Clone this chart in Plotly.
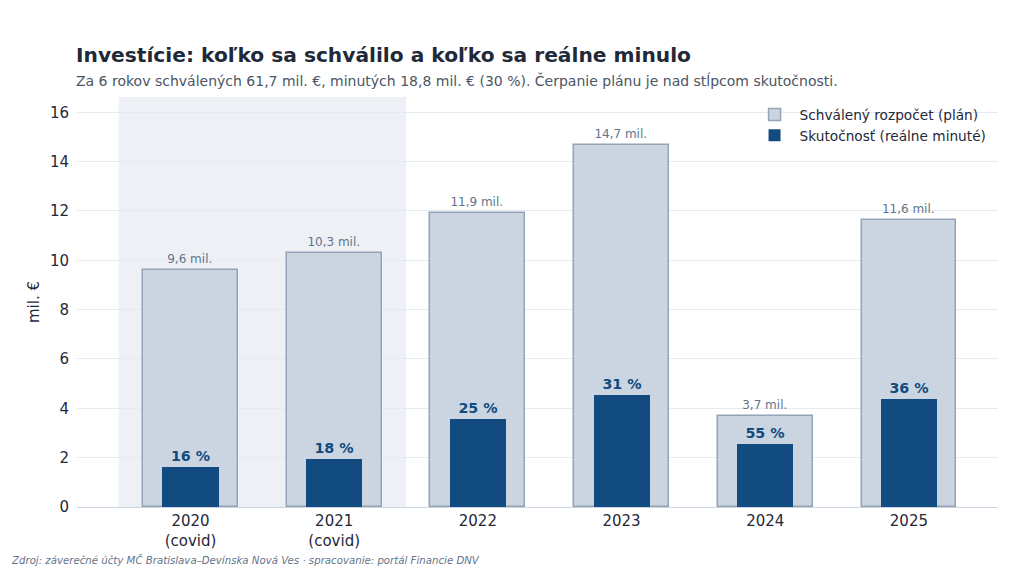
import plotly.graph_objects as go

years = ["2020<br>(covid)", "2021<br>(covid)", "2022", "2023", "2024", "2025"]
plan = [9.6, 10.3, 11.9, 14.66, 3.68, 11.62]
actual = [1.62, 1.96, 3.58, 4.53, 2.57, 4.39]
plan_labels = ["9,6 mil.", "10,3 mil.", "11,9 mil.", "14,7 mil.", "3,7 mil.", "11,6 mil."]
pct_labels = ["16 %", "18 %", "25 %", "31 %", "55 %", "36 %"]
y_ticks = [0, 2, 4, 6, 8, 10, 12, 14, 16]

FONT = "DejaVu Sans"
NAVY = "#114b7f"

fig = go.Figure()
fig.add_trace(go.Bar(
    x=years, y=plan, name="Schválený rozpočet (plán)", width=0.66,
    marker=dict(color="#cbd5e1", line=dict(color="#94a3b8", width=1.5)),
    text=plan_labels, textposition="outside",
    textfont=dict(family=FONT, size=12, color="#64748b"),
    cliponaxis=False, hoverinfo="skip",
))
fig.add_trace(go.Bar(
    x=years, y=actual, name="Skutočnosť (reálne minuté)", width=0.39,
    marker=dict(color=NAVY, line=dict(color=NAVY, width=0)),
    text=pct_labels, texttemplate="<b>%{text}</b>", textposition="outside",
    textfont=dict(family=FONT, size=14.3, color=NAVY),
    cliponaxis=False, hoverinfo="skip",
))

fig.add_shape(type="rect", xref="x", yref="paper", x0=-0.5, x1=1.5, y0=0, y1=1,
              fillcolor="#edf1f6", line_width=0, layer="below")

fig.update_layout(
    barmode="overlay",
    width=1024, height=570,
    margin=dict(l=77, r=26, t=97, b=63),
    paper_bgcolor="white", plot_bgcolor="white",
    font=dict(family=FONT, size=14, color="#1f2937"),
    showlegend=True,
    legend=dict(x=0.993, xanchor="right", y=0.995, yanchor="top",
                bgcolor="rgba(255,255,255,0)", font=dict(size=13.7, color="#1f2937"),
                tracegroupgap=0, itemwidth=40),
    bargap=0,
)
fig.update_xaxes(range=[-0.79, 5.62], showgrid=False, showline=True,
                 linecolor="#cbd5e1", linewidth=1, ticks="",
                 tickfont=dict(size=15, color="#1f2937"), fixedrange=True)
fig.update_yaxes(range=[0, 16.62], tickvals=y_ticks, showgrid=True,
                 gridcolor="#e5e9f0", gridwidth=1, zeroline=False, showline=False,
                 ticks="outside", ticklen=4, tickcolor="rgba(0,0,0,0)",
                 tickfont=dict(size=15, color="#1f2937"), fixedrange=True,
                 title=dict(text="mil. €", font=dict(size=15, color="#1f2937"), standoff=6))

fig.add_annotation(text="<b>Investície: koľko sa schválilo a koľko sa reálne minulo</b>",
                   xref="paper", yref="paper", x=0, y=1, xanchor="left", yanchor="middle",
                   yshift=42, xshift=-3, showarrow=False,
                   font=dict(family=FONT, size=20.2, color="#1f2937"))
fig.add_annotation(text="Za 6 rokov schválených 61,7 mil. €, minutých 18,8 mil. € (30 %). Čerpanie plánu je nad stĺpcom skutočnosti.",
                   xref="paper", yref="paper", x=0, y=1, xanchor="left", yanchor="middle",
                   yshift=17, xshift=-3, showarrow=False,
                   font=dict(family=FONT, size=14, color="#4b5563"))
fig.add_annotation(text="<i>Zdroj: záverečné účty MČ Bratislava–Devínska Nová Ves · spracovanie: portál Financie DNV</i>",
                   xref="paper", yref="paper", x=-68/921, y=0, xanchor="left", yanchor="middle",
                   yshift=-53, showarrow=False,
                   font=dict(family=FONT, size=10.2, color="#64748b"))

fig.write_html("out.html", config={"displayModeBar": False},
               post_script="document.body.style.margin='0';document.body.style.overflow='hidden';")
